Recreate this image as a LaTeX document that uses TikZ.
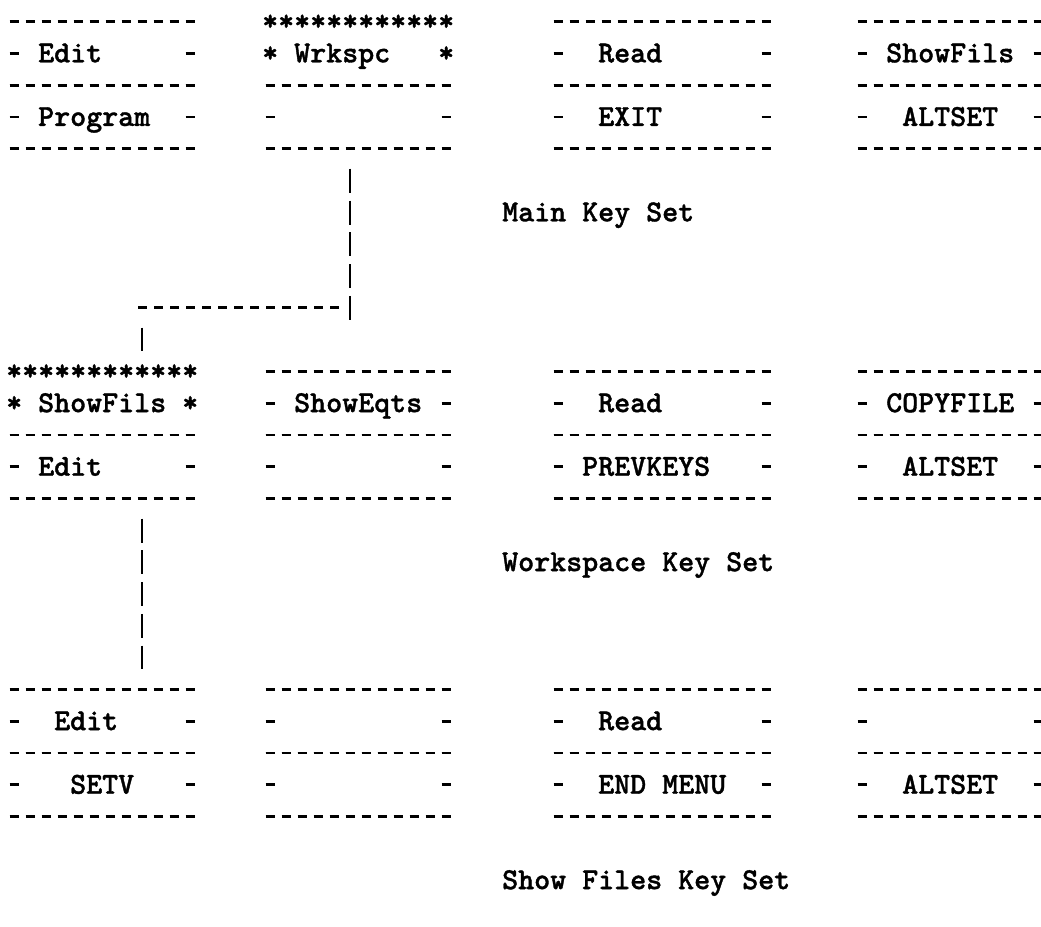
\documentclass[tikz,border=0pt]{standalone}
\usepackage{fontspec}
\newfontfamily\typew{lmmonolt10-bold.otf}[FakeBold=1.2]
\newcommand\tw{\typew\fontsize{30.48}{36}\selectfont}
% one dash row: chars #1..#2 on text line #3
\newcommand\dr[3]{\draw[dashln] ({14+16*(#1)-4.5},{21.5+31.8*(#3)}) -- ({14+16*(#2)+4.5},{21.5+31.8*(#3)});}
% key cell: #1 name, #2 first char, #3 last char, #4 top line, #5 label char, #6 label, #7 starred (1) or plain (0)
\newcommand\keycell[7]{%
  \pgfmathsetmacro\cw{16*(#3-#2+1)}%
  \node[cellbox, minimum width=\cw pt] (#1) at ({6+8*(#2+#3+1)},{21.5+31.8*(#4+1)}) {};%
  \if\relax\detokenize{#6}\relax\else
    \node[lbl] (#1-t) at ({6+16*(#5)},{21.5+31.8*(#4+1)+9}) {#6};%
  \fi
  \ifnum#7=1
    \node[lbl] (#1-s) at ({6+16*(#2)},{21.5+31.8*(#4)+9}) {************};%
    \node[lbl] (#1-l) at ({6+16*(#2)},{21.5+31.8*(#4+1)+9}) {*};%
    \node[lbl] (#1-r) at ({6+16*(#3)},{21.5+31.8*(#4+1)+9}) {*};%
  \else
    \dr{#2}{#3}{#4}%
    \dr{#2}{#2}{#4+1}%
    \dr{#3}{#3}{#4+1}%
  \fi
  \dr{#2}{#3}{#4+2}%
}
\begin{document}
\begin{tikzpicture}[x=1pt,y=-1pt,
  dashln/.style={line width=2.8pt, dash pattern=on 9pt off 7pt},
  vbar/.style={line width=2.6pt, dash pattern=on 24pt off 7.8pt},
  cellbox/.style={rectangle, inner sep=0pt, minimum height=63.6pt},
  lbl/.style={anchor=base west, inner sep=0pt, font=\tw},
]
\fill[white] (0,0) rectangle (1041,926);
\useasboundingbox (0,0) rectangle (1041,926);

% ---- Main Key Set ----
\keycell{mEdit}{0}{11}{0}{2}{Edit}{0}
\keycell{mProg}{0}{11}{2}{2}{Program}{0}
\keycell{mWrk}{16}{27}{0}{18}{Wrkspc}{1}
\keycell{mB2}{16}{27}{2}{18}{}{0}
\keycell{mRead}{34}{47}{0}{37}{Read}{0}
\keycell{mExit}{34}{47}{2}{37}{EXIT}{0}
\keycell{mShow}{53}{64}{0}{55}{ShowFils}{0}
\keycell{mAlt}{53}{64}{2}{56}{ALTSET}{0}
\node[lbl] (tMain) at ({6+16*31},{21.5+31.8*6+9}) {Main Key Set};

% ---- Workspace Key Set ----
\keycell{wShow}{0}{11}{11}{2}{ShowFils}{1}
\keycell{wEdit}{0}{11}{13}{2}{Edit}{0}
\keycell{wEqts}{16}{27}{11}{18}{ShowEqts}{0}
\keycell{wB2}{16}{27}{13}{18}{}{0}
\keycell{wRead}{34}{47}{11}{37}{Read}{0}
\keycell{wPrev}{34}{47}{13}{36}{PREVKEYS}{0}
\keycell{wCopy}{53}{64}{11}{55}{COPYFILE}{0}
\keycell{wAlt}{53}{64}{13}{56}{ALTSET}{0}
\node[lbl] (tWork) at ({6+16*31},{21.5+31.8*17+9}) {Workspace Key Set};

% ---- Show Files Key Set ----
\keycell{sEdit}{0}{11}{21}{3}{Edit}{0}
\keycell{sSetv}{0}{11}{23}{4}{SETV}{0}
\keycell{sB1}{16}{27}{21}{18}{}{0}
\keycell{sB2}{16}{27}{23}{18}{}{0}
\keycell{sRead}{34}{47}{21}{37}{Read}{0}
\keycell{sEnd}{34}{47}{23}{37}{END MENU}{0}
\keycell{sD1}{53}{64}{21}{56}{}{0}
\keycell{sAlt}{53}{64}{23}{56}{ALTSET}{0}
\node[lbl] (tShow) at ({6+16*31},{21.5+31.8*27+9}) {Show Files Key Set};

% ---- connectors ----
\coordinate (c1) at ({14+16*21},{21.5+31.8*9});
\coordinate (c2) at ({14+16*8},{21.5+31.8*9});
\draw[vbar, shorten <=19.8pt, shorten >=-12pt] (mB2.south -| c1) -- (c1);
\draw[dashln, shorten <=11.5pt, shorten >=-4.5pt] (c1) -- (c2);
\draw[vbar, shorten <=19.8pt, shorten >=19.8pt] (c2) -- (wShow.north -| c2);
\draw[vbar, shorten <=19.8pt, shorten >=19.8pt] (wEdit.south -| c2) -- (sEdit.north -| c2);
\end{tikzpicture}
\end{document}
